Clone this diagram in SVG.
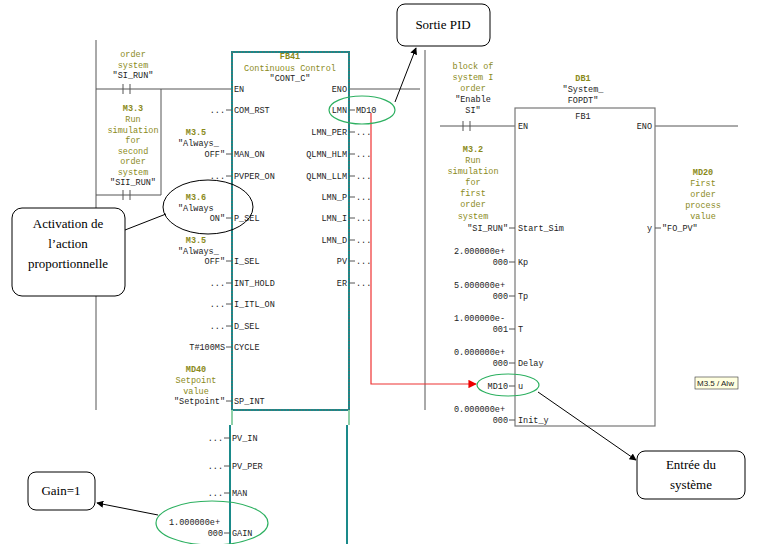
<svg xmlns="http://www.w3.org/2000/svg" width="782" height="544" viewBox="0 0 782 544">
<defs>
<style>
text{font-family:"Liberation Mono",monospace;font-size:8.5px;fill:#222}
.o{fill:#8a8a1a}
.b{font-weight:bold}
.m{text-anchor:middle}
.e{text-anchor:end}
.ln{stroke:#555;stroke-width:1;fill:none}
.fb{stroke:#1a8a8a;stroke-width:2;fill:none}
.fbd{stroke:#c04040;stroke-width:0.6;stroke-dasharray:1 2;fill:none}
.call{fill:#fff;stroke:#000;stroke-width:1}
.ct{font-family:"Liberation Serif",serif;font-size:13px;fill:#000}
.g{fill:none;stroke:#2cb060;stroke-width:1.2}
</style>
<marker id="ah" viewBox="0 0 10 10" refX="9" refY="5" markerWidth="7" markerHeight="7" orient="auto"><path d="M0,0L10,5L0,10z" fill="#000"/></marker>
<marker id="ar" viewBox="0 0 10 10" refX="9" refY="5" markerWidth="7" markerHeight="7" orient="auto"><path d="M0,0L10,5L0,10z" fill="#e00"/></marker>
</defs>
<rect width="782" height="544" fill="#fff"/>
<g id="rails" class="ln">
<path d="M96,40V410M425,50V410M96,89H232M161,89V195M96,195H161M123,84V94M130,84V94M123,190V200M130,190V200"/>
<path d="M349,89H420M440,126H515M463,121V131M470,121V131M655,126H738"/>
</g>
<g id="fb41">
<rect x="232" y="52" width="117" height="358" class="fb"/>
<rect x="232" y="52" width="117" height="358" class="fbd"/>
<path d="M232,410V425M349,410V425" stroke="#8ed0a8" stroke-width="2"/>
<path d="M230,425V544M347,425V544" class="fb"/>
<text x="290" y="59" class="m o b">FB41</text>
<text x="290" y="71" class="m o">Continuous Control</text>
<text x="290" y="81" class="m">"CONT_C"</text>
<text x="234" y="92">EN</text><text x="347" y="92" class="e">ENO</text>
<g class="ln"><path d="M226,110H232M226,154H232M226,176H232M226,218H232M226,261H232M226,283H232M226,304H232M226,326H232M226,347H232M226,401H232M224,438H230M224,466H230M224,493H230M224,533H230"/>
<path d="M349,110H355M349,132H355M349,154H355M349,176H355M349,197H355M349,218H355M349,240H355M349,261H355M349,283H355"/></g>
<g>
<text x="234" y="113">COM_RST</text><text x="234" y="157">MAN_ON</text><text x="234" y="179">PVPER_ON</text><text x="234" y="221">P_SEL</text><text x="234" y="264">I_SEL</text><text x="234" y="286">INT_HOLD</text><text x="234" y="307">I_ITL_ON</text><text x="234" y="329">D_SEL</text><text x="234" y="350">CYCLE</text><text x="234" y="404">SP_INT</text>
<text x="232" y="441">PV_IN</text><text x="232" y="469">PV_PER</text><text x="232" y="496">MAN</text><text x="232" y="536">GAIN</text>
<text x="347" y="113" class="e">LMN</text><text x="347" y="135" class="e">LMN_PER</text><text x="347" y="157" class="e">QLMN_HLM</text><text x="347" y="179" class="e">QLMN_LLM</text><text x="347" y="200" class="e">LMN_P</text><text x="347" y="221" class="e">LMN_I</text><text x="347" y="243" class="e">LMN_D</text><text x="347" y="264" class="e">PV</text><text x="347" y="286" class="e">ER</text>
<text x="356" y="113">MD10</text>
<text x="356" y="135">...</text><text x="356" y="157">...</text><text x="356" y="179">...</text><text x="356" y="200">...</text><text x="356" y="221">...</text><text x="356" y="243">...</text><text x="356" y="264">...</text><text x="356" y="286">...</text>
</g>
<g class="e">
<text x="225" y="113" class="e">...</text><text x="225" y="179" class="e">...</text><text x="225" y="286" class="e">...</text><text x="225" y="307" class="e">...</text><text x="225" y="329" class="e">...</text><text x="225" y="350" class="e">T#100MS</text>
<text x="223" y="441" class="e">...</text><text x="223" y="469" class="e">...</text><text x="223" y="496" class="e">...</text>
<text x="220" y="525" class="e">1.000000e+</text><text x="223" y="536" class="e">000</text>
</g>
</g>
<g id="left-labels">
<text x="133" y="57" class="m o">order</text><text x="133" y="68" class="m o">system</text><text x="133" y="78" class="m">"SI_RUN"</text>
<text x="133" y="111" class="m o b">M3.3</text><text x="133" y="122" class="m o">Run</text><text x="133" y="133" class="m o">simulation</text><text x="133" y="143" class="m o">for</text><text x="133" y="154" class="m o">second</text><text x="133" y="164" class="m o">order</text><text x="133" y="175" class="m o">system</text><text x="133" y="185" class="m">"SII_RUN"</text>
<text x="196" y="135" class="m o b">M3.5</text><text x="178" y="146">"Always_</text><text x="225" y="157" class="e">OFF"</text>
<text x="196" y="200" class="m o b">M3.6</text><text x="178" y="211">"Always</text><text x="225" y="221" class="e">ON"</text>
<text x="196" y="243" class="m o b">M3.5</text><text x="178" y="254">"Always_</text><text x="225" y="264" class="e">OFF"</text>
<text x="196" y="372" class="m o b">MD40</text><text x="196" y="383" class="m o">Setpoint</text><text x="196" y="394" class="m o">value</text><text x="225" y="404" class="e">"Setpoint"</text>
</g>
<g id="fb1">
<rect x="515" y="108" width="140" height="318" fill="none" stroke="#777" stroke-width="1.2"/>
<text x="583" y="81" class="m o b">DB1</text><text x="583" y="92" class="m">"System_</text><text x="583" y="103" class="m">FOPDT"</text>
<text x="583" y="119" class="m">FB1</text>
<text x="518" y="129">EN</text><text x="652" y="129" class="e">ENO</text>
<g class="ln"><path d="M509,228H515M509,262H515M509,296H515M509,329H515M509,363H515M509,386H515M509,420H515M655,228H661"/></g>
<text x="518" y="231">Start_Sim</text><text x="518" y="265">Kp</text><text x="518" y="299">Tp</text><text x="518" y="332">T</text><text x="518" y="366">Delay</text><text x="518" y="389">u</text><text x="518" y="423">Init_y</text>
<text x="652" y="231" class="e">y</text><text x="662" y="231">"FO_PV"</text>
<text x="473" y="69" class="m o">block of</text><text x="473" y="80" class="m o">system I</text><text x="473" y="91" class="m o">order</text><text x="473" y="102" class="m">"Enable</text><text x="473" y="113" class="m">SI"</text>
<text x="473" y="152" class="m o b">M3.2</text><text x="473" y="163" class="m o">Run</text><text x="473" y="174" class="m o">simulation</text><text x="473" y="185" class="m o">for</text><text x="473" y="196" class="m o">first</text><text x="473" y="207" class="m o">order</text><text x="473" y="219" class="m o">system</text><text x="508" y="231" class="e">"SI_RUN"</text>
<text x="703" y="175" class="m o b">MD20</text><text x="703" y="186" class="m o">First</text><text x="703" y="197" class="m o">order</text><text x="703" y="208" class="m o">process</text><text x="703" y="219" class="m o">value</text>
<text x="505" y="254" class="e">2.000000e+</text><text x="508" y="265" class="e">000</text>
<text x="505" y="288" class="e">5.000000e+</text><text x="508" y="299" class="e">000</text>
<text x="505" y="321" class="e">1.000000e-</text><text x="508" y="332" class="e">001</text>
<text x="505" y="355" class="e">0.000000e+</text><text x="508" y="366" class="e">000</text>
<text x="508" y="389" class="e">MD10</text>
<text x="505" y="412" class="e">0.000000e+</text><text x="508" y="423" class="e">000</text>
<rect x="695" y="377" width="43" height="12" fill="#ffffe0" stroke="#333" stroke-width="0.6"/>
<text x="697" y="386" style="font-family:'Liberation Sans',sans-serif;font-size:8px">M3.5 / Alw</text>
</g>
<g id="connectors">
<path d="M371,113V384H476" fill="none" stroke="#e33" stroke-width="1.2" marker-end="url(#ar)"/>
<path d="M395,102L416,48" stroke="#000" marker-end="url(#ah)"/>
<path d="M125,230L166,214" stroke="#000"/>
<path d="M158,515L97,503" stroke="#000" marker-end="url(#ah)"/>
<path d="M538,392L636,460" stroke="#000" marker-end="url(#ah)"/>
</g>
<g id="highlights">
<ellipse cx="208" cy="207" rx="45" ry="27" fill="none" stroke="#000"/>
<ellipse cx="362" cy="110" rx="33" ry="14" class="g"/>
<ellipse cx="508" cy="385" rx="31" ry="11" class="g"/>
<ellipse cx="212" cy="523" rx="56" ry="22" class="g"/>
</g>
<g id="callout-sortie"><rect x="397" y="4" width="93" height="42" rx="8" class="call"/><text x="443" y="29" class="ct m">Sortie PID</text></g>
<g id="callout-activation"><rect x="12" y="208" width="113" height="88" rx="10" class="call"/><text x="68" y="228" class="ct m">Activation de</text><text x="68" y="248" class="ct m">l’action</text><text x="68" y="268" class="ct m">proportionnelle</text></g>
<g id="callout-gain"><rect x="28" y="472" width="67" height="38" rx="8" class="call"/><text x="61" y="495" class="ct m">Gain=1</text></g>
<g id="callout-entree"><rect x="637" y="451" width="108" height="48" rx="8" class="call"/><text x="691" y="469" class="ct m">Entrée du</text><text x="691" y="489" class="ct m">système</text></g>
</svg>
